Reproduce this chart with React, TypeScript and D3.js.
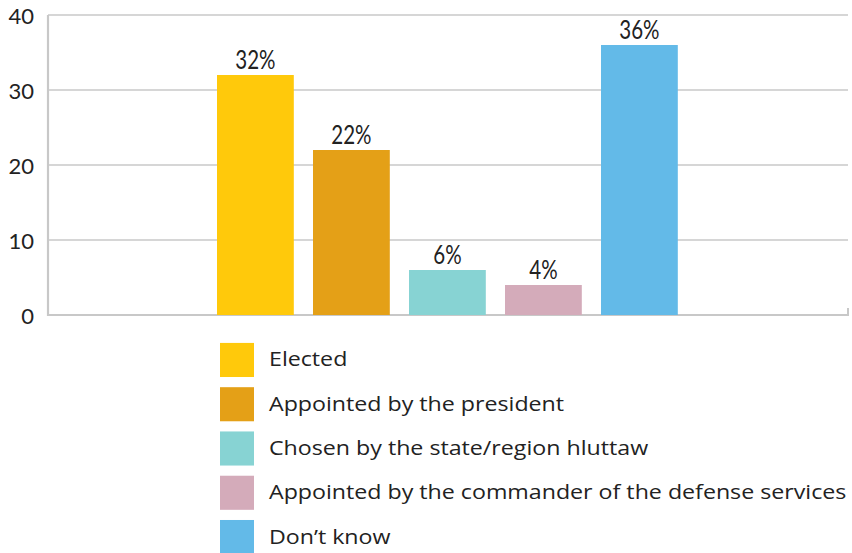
import React from "react";
import * as d3 from "d3";

const categories = [
  "Elected",
  "Appointed by the president",
  "Chosen by the state/region hluttaw",
  "Appointed by the commander of the defense services",
  "Don\u2019t know",
];
const values = [32, 22, 6, 4, 36];
const colors = ["#FFC90B", "#E4A017", "#87D3D3", "#D4ABBA", "#63BAE8"];
const yTicks = [0, 10, 20, 30, 40];

export default function App() {
  const W = 852, H = 553;
  const x0 = 48, x1 = 848;
  const y = d3.scaleLinear().domain([0, 40]).range([315, 15]);
  const x = d3.scaleBand<string>().domain(categories).range([207.4, 687.4]).paddingInner(0.2).paddingOuter(0.1);
  const legendY = d3.scaleBand<string>().domain(categories).range([338.5, 558.5]).paddingInner(0.23).paddingOuter(0.1);
  const grid = "#c8c8c8";
  return (
    <svg width={W} height={H} style={{ position: "absolute", left: 0, top: 0 }}>
      <rect width={W} height={H} fill="#fff" />
      {yTicks.map((t) => (
        <g key={t}>
          <line x1={x0} x2={x1} y1={y(t)} y2={y(t)} stroke={grid} strokeWidth={t === 0 ? 2.2 : 1.6} />
          <text x={34} y={y(t) + 3} textAnchor="end" dominantBaseline="middle" fontFamily="Lato, 'Open Sans', sans-serif" fontSize={22} fill="#222">{t}</text>
        </g>
      ))}
      <line x1={x0} x2={x0} y1={y(40)} y2={y(0) + 1} stroke={grid} strokeWidth={2.2} />
      <line x1={x1} x2={x1} y1={y(0) - 7} y2={y(0) + 1} stroke={grid} strokeWidth={2} />
      {categories.map((c, i) => {
        const cx = (x(c) as number) + x.bandwidth() / 2;
        const ty = y(values[i]) - 6;
        return (
          <g key={c}>
            <rect x={x(c)} y={y(values[i])} width={x.bandwidth()} height={y(0) - y(values[i])} fill={colors[i]} />
            <text transform={`translate(${cx},${ty}) scale(0.76,1)`} textAnchor="middle" fontFamily="Lato, sans-serif" fontWeight={400} fontSize={27} fill="#222">{values[i]}%</text>
          </g>
        );
      })}
      {categories.map((c, i) => {
        const yy = legendY(c) as number;
        return (
          <g key={"l" + c}>
            <rect x={220} y={yy} width={34} height={legendY.bandwidth()} fill={colors[i]} />
            <text transform={`translate(269,${yy + legendY.bandwidth() / 2 + 6.5}) scale(1.16,1)`} fontFamily="'Open Sans', sans-serif" fontSize={20} fill="#222">{c}</text>
          </g>
        );
      })}
    </svg>
  );
}
